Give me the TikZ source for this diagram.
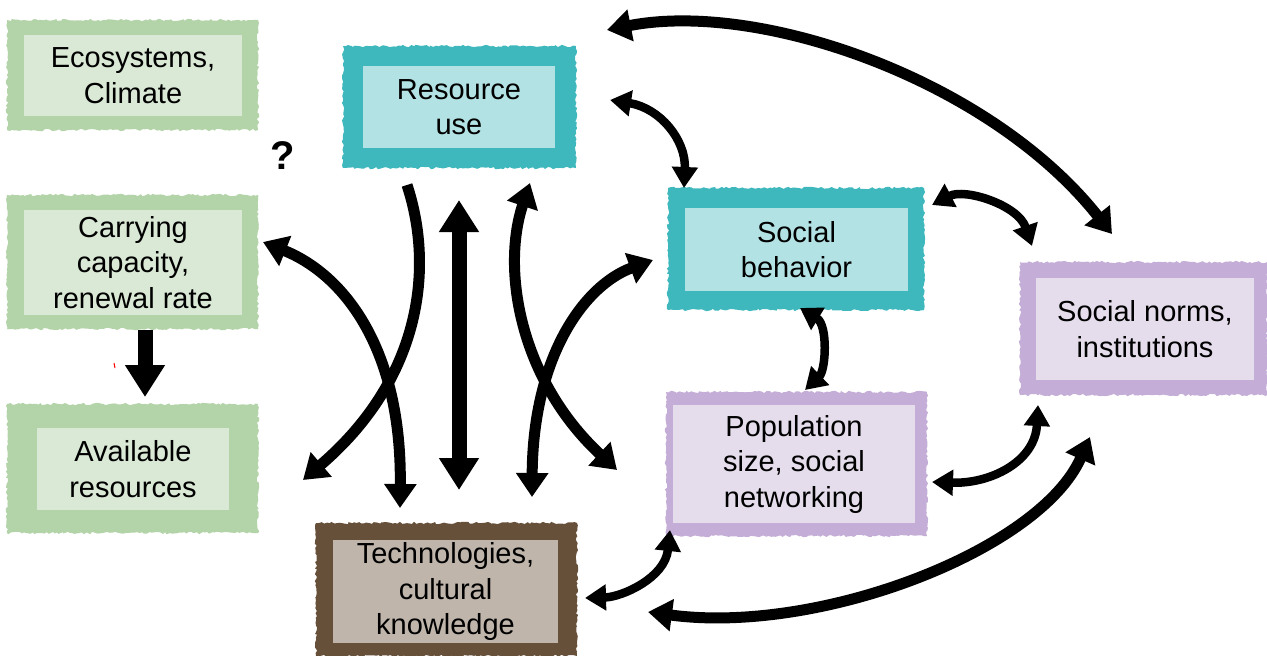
\documentclass[tikz,border=0pt]{standalone}
\usepackage{fontspec}
\setmainfont{Liberation Sans}
\usetikzlibrary{arrows.meta,decorations.pathmorphing}
\definecolor{greenB}{RGB}{179,211,168}
\definecolor{greenI}{RGB}{217,233,213}
\definecolor{tealB}{RGB}{62,184,189}
\definecolor{tealI}{RGB}{178,226,228}
\definecolor{purpB}{RGB}{196,173,214}
\definecolor{purpI}{RGB}{229,221,236}
\definecolor{brownB}{RGB}{103,80,58}
\definecolor{brownI}{RGB}{191,181,171}
\begin{document}
\begin{tikzpicture}[x=1pt,y=-1pt,
  frame/.style={fill=#1, decorate, decoration={random steps,segment length=2.5pt,amplitude=1.2pt}},
  lbl/.style={fill=#1, align=center, inner sep=0pt, font=\fontsize{29}{35.5}\selectfont},
  bigarr/.style={line width=11pt, >={Triangle[length=24pt,width=31pt]}},
  smallarr/.style={line width=8.5pt, >={Triangle[length=21pt,width=25pt]}},
  straightarr/.style={line width=15pt, >={Triangle[length=32pt,width=38pt]}}]
\pgfmathsetseed{7}
\useasboundingbox (0,0) rectangle (1267,656);

% outer frames
\fill[frame=greenB] (7,20) rectangle (258,130);
\fill[frame=tealB] (343,46) rectangle (576,168);
\fill[frame=greenB] (7,195) rectangle (258,329);
\fill[frame=greenB] (7,404) rectangle (258,533);
\fill[frame=tealB] (668,188) rectangle (924,310);
\fill[frame=purpB] (1020,262) rectangle (1267,395);
\fill[frame=purpB] (666,392) rectangle (927,536);
\fill[frame=brownB] (316,523) rectangle (577,656);

% inner boxes with text
\node[lbl=greenI, minimum width=218pt, minimum height=81pt] (eco) at (133,75.5) {Ecosystems,\\Climate};
\node[lbl=tealI, minimum width=192pt, minimum height=82pt] (res) at (459,107) {Resource\\use};
\node[lbl=greenI, minimum width=218pt, minimum height=105pt] (car) at (133,262.5) {Carrying\\capacity,\\renewal rate};
\node[lbl=greenI, minimum width=192pt, minimum height=82pt] (ava) at (133,469) {Available\\resources};
\node[lbl=tealI, minimum width=223pt, minimum height=83pt] (soc) at (796.5,249.5) {Social\\behavior};
\node[lbl=purpI, minimum width=218pt, minimum height=102pt] (nor) at (1145,329) {Social norms,\\institutions};
\node[lbl=purpI, minimum width=242pt, minimum height=118pt] (pop) at (794,464) {Population\\size, social\\networking};
\node[lbl=brownI, minimum width=225pt, minimum height=103pt] (tec) at (445.5,591.5) {Technologies,\\cultural\\knowledge};

\node[font=\fontsize{40}{40}\selectfont\bfseries] (q) at (283,156) {?};

% connector end points
\coordinate (aL) at (607,30);   \coordinate (aR) at (1112,234);
\coordinate (bL) at (610,100);  \coordinate (bR) at (684,188);
\coordinate (cL) at (932,205);  \coordinate (cR) at (1032,246);
\coordinate (dT) at (800,308);  \coordinate (dB) at (805,390);
\coordinate (eT) at (1038,405); \coordinate (eL) at (932,482);
\coordinate (gT) at (1090,437); \coordinate (gL) at (648,612);
\coordinate (fT) at (670,530);  \coordinate (fL) at (585,598);
\coordinate (c1a) at (263,242); \coordinate (c1b) at (400,508);
\coordinate (c2a) at (407,185); \coordinate (c2b) at (303,480);
\coordinate (vT) at (459,200);  \coordinate (vB) at (459,490);
\coordinate (c3a) at (530,183); \coordinate (c3b) at (617,470);
\coordinate (c4a) at (653,260); \coordinate (c4b) at (532,497);
\coordinate (kT) at (145,330);  \coordinate (kB) at (145,397);

% connectors
\draw[bigarr,<->] (aL) .. controls (760,0) and (990,80) .. (aR);
\draw[smallarr,<->] (bL) .. controls (660,108) and (686,140) .. (bR);
\draw[smallarr,<->] (cL) .. controls (965,188) and (1018,205) .. (cR);
\draw[smallarr,<->] (dT) .. controls (828,325) and (826,370) .. (dB);
\draw[smallarr,<->] (eT) .. controls (1035,462) and (990,484) .. (eL);
\draw[bigarr,<->] (gT) .. controls (1040,550) and (820,635) .. (gL);
\draw[smallarr,<->] (fT) .. controls (665,578) and (622,597) .. (fL);

\draw[bigarr,<->] (c1a) .. controls (345,275) and (402,350) .. (c1b);
\draw[bigarr,->] (c2a) .. controls (435,270) and (420,380) .. (c2b);
\draw[straightarr,<->] (vT) -- (vB);
\draw[bigarr,<->] (c3a) .. controls (501,270) and (520,380) .. (c3b);
\draw[bigarr,<->] (c4a) .. controls (585,285) and (533,355) .. (c4b);

\draw[straightarr,->] (kT) -- (kB);
\draw[red, line width=1pt] (114,363) -- (115,368);
\end{tikzpicture}
\end{document}
